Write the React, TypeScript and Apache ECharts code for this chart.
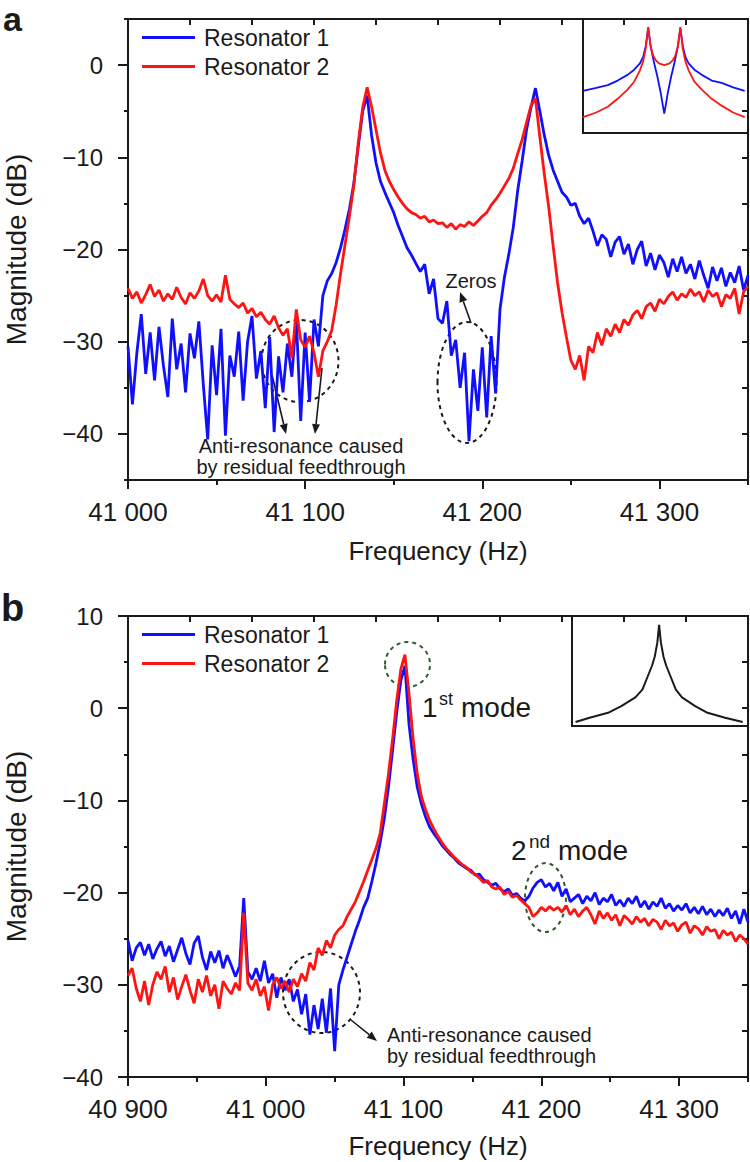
import React, { useEffect, useRef } from 'react';
import * as echarts from 'echarts';

const FONT = '"Liberation Sans", Arial, Helvetica, sans-serif';
const BLUE = '#1010ff';
const RED = '#ff1414';
const INK = '#1a1a1a';
const GREEN = '#2e5a2e';

// ---------- Panel a : frequency grid start / step (Hz) ----------
const A_F0 = 41000;
const A_STEP = 2.5;
// Resonator 1 (blue), panel a
const A_RES1 = [
  -30.5, -36.8, -31.2, -27.0, -33.5, -29.0, -34.2, -28.4, -32.6, -36.0,
  -27.5, -33.0, -30.2, -35.5, -29.1, -31.8, -27.8, -34.6, -40.6, -30.4,
  -35.8, -28.6, -40.2, -31.5, -33.8, -28.9, -36.4, -30.0, -27.2, -34.0,
  -31.0, -37.2, -29.5, -39.8, -31.6, -35.5, -30.2, -33.8, -27.4, -38.6,
  -29.0, -36.5, -27.6, -30.5, -25.0, -23.4, -22.6, -21.4, -19.8, -17.8,
  -15.6, -12.8, -8.8, -5.0, -3.3, -7.6, -10.6, -12.6, -13.8, -14.9,
  -16.0, -17.4, -18.6, -19.8, -20.6, -21.5, -22.4, -21.6, -24.8, -23.2,
  -27.5, -28.0, -25.6, -31.5, -29.8, -35.0, -31.2, -40.8, -33.0, -37.5,
  -30.6, -38.2, -29.4, -35.6, -26.5, -23.0, -20.5, -17.6, -13.6, -10.4,
  -7.0, -4.6, -2.5, -5.0, -7.6, -9.8, -11.4, -12.6, -13.8, -14.3,
  -15.2, -15.0, -16.4, -17.2, -16.6, -18.0, -19.6, -18.4, -18.9, -20.8,
  -19.2, -18.6, -20.5, -19.4, -21.6, -20.0, -19.1, -21.8, -20.4, -22.2,
  -20.6, -21.4, -23.0, -21.0, -22.4, -20.8, -22.6, -21.6, -23.2, -21.2,
  -22.8, -24.2, -21.9, -23.4, -22.0, -24.0, -22.5, -23.6, -21.8, -24.4,
  -22.8,
];
// Resonator 2 (red), panel a
const A_RES2 = [
  -24.2, -25.3, -24.6, -25.8, -24.9, -23.8, -25.1, -24.4, -25.6, -24.8,
  -25.4, -24.1, -25.2, -25.9, -24.7, -25.3, -24.5, -23.2, -25.0, -25.6,
  -24.9, -25.7, -22.8, -25.4, -25.9, -26.3, -25.8, -26.9, -26.4, -27.3,
  -26.8, -27.6, -28.1, -27.2, -28.5, -29.3, -28.6, -31.8, -26.5, -29.8,
  -30.6, -29.4, -31.2, -33.8, -31.0, -30.0, -28.8, -26.0, -22.6, -19.5,
  -16.4, -13.0, -8.4, -4.6, -2.4, -4.5, -7.0, -9.5, -11.4, -12.6,
  -13.5, -14.3, -15.0, -15.6, -16.0, -16.2, -16.6, -16.4, -17.0, -16.8,
  -17.2, -17.1, -17.6, -17.2, -17.8, -17.3, -17.5, -17.0, -17.4, -16.9,
  -16.4, -16.0, -15.2, -14.6, -13.9, -13.1, -12.3, -11.2, -9.6, -8.1,
  -6.2, -4.4, -3.6, -7.8, -11.8, -15.4, -19.6, -23.6, -26.8, -29.5,
  -32.0, -33.0, -31.5, -34.2, -30.5, -31.2, -29.0, -30.4, -28.6, -29.4,
  -28.1, -29.0, -27.6, -28.2, -27.1, -26.6, -27.5, -26.2, -25.8, -26.7,
  -25.4, -25.9, -25.1, -24.6, -25.5, -24.8, -25.2, -24.3, -25.0, -24.6,
  -25.7, -24.4, -25.1, -24.7, -26.2, -24.9, -25.3, -24.2, -27.0, -24.6,
  -24.0,
];

// ---------- Panel b ----------
const B_F0 = 40900;
const B_STEP = 3;
const B_RES1 = [
  -25.2, -27.4, -26.0, -25.4, -26.8, -25.6, -27.2, -26.1, -25.3, -26.9,
  -25.8, -27.5, -26.2, -24.9, -26.6, -27.8, -25.5, -24.7, -27.0, -28.4,
  -26.4, -27.6, -26.3, -28.2, -26.8, -27.9, -29.1, -28.0, -20.6, -28.6,
  -29.4, -28.2, -29.6, -27.4, -29.8, -28.8, -31.4, -29.2, -30.6, -29.4,
  -31.8, -30.5, -33.2, -31.0, -35.4, -32.2, -34.8, -31.5, -35.2, -30.4,
  -37.2, -30.0, -28.4, -27.0, -25.6, -24.2, -23.0, -21.6, -20.6, -18.8,
  -16.8, -14.6, -12.0, -8.6, -4.6, -0.5, 3.0, 4.6, -1.8, -5.6,
  -8.6, -10.4, -11.8, -12.9, -13.6, -14.2, -14.9, -15.4, -15.9, -16.3,
  -16.8, -17.1, -17.4, -17.6, -18.1, -18.0, -18.6, -18.9, -19.2, -19.0,
  -19.6, -19.9, -19.6, -20.3, -20.1, -20.6, -20.9, -20.4, -19.5, -18.9,
  -18.6, -19.4, -19.0, -19.8, -18.9, -20.4, -19.6, -21.0, -20.6, -20.2,
  -21.2, -20.4, -20.9, -20.0, -21.3, -20.6, -21.0, -20.2, -21.4, -20.8,
  -21.5, -20.6, -21.2, -20.4, -21.6, -20.9, -21.8, -21.0, -21.5, -20.6,
  -21.7, -21.2, -22.0, -21.4, -21.9, -21.2, -22.2, -21.6, -22.3, -21.5,
  -22.4, -21.8, -22.6, -21.9, -22.5, -21.7, -22.8, -22.0, -23.4, -21.8,
  -23.2,
];
const B_RES2 = [
  -29.0, -28.2, -30.4, -31.8, -29.6, -32.2, -30.0, -28.6, -29.4, -28.0,
  -30.8, -29.2, -31.6, -30.2, -28.9, -30.6, -32.0, -29.4, -30.8, -29.0,
  -31.2, -30.0, -32.6, -29.6, -30.4, -31.0, -29.8, -30.6, -22.2, -29.8,
  -30.6, -29.4, -31.2, -30.2, -32.8, -30.0, -29.2, -30.4, -29.6, -30.8,
  -29.4, -30.2, -28.8, -29.6, -27.6, -28.4, -26.0, -26.8, -25.2, -26.0,
  -24.6, -24.0, -23.6, -22.6, -21.8, -21.0, -19.9, -18.8, -17.6, -16.4,
  -15.2, -13.6, -10.4, -7.2, -3.4, 0.8, 4.2, 5.8, 1.5, -3.4,
  -7.2, -9.6, -11.0, -12.2, -13.1, -13.9, -14.6, -15.2, -15.7, -16.2,
  -16.6, -17.0, -17.3, -17.8, -18.0, -18.4, -18.9, -18.7, -19.4, -19.6,
  -19.4, -20.2, -19.9, -20.5, -20.3, -20.8, -21.2, -21.6, -22.6, -22.2,
  -21.6, -22.0, -21.5, -21.9, -21.6, -22.1, -21.4, -22.4, -21.8, -22.6,
  -22.0, -21.6, -22.4, -23.4, -22.0, -22.8, -22.2, -23.0, -22.4, -23.6,
  -22.5, -22.9, -23.4, -22.6, -23.2, -22.8, -23.6, -22.9, -23.2, -24.0,
  -23.0, -23.6, -23.3, -24.2, -23.5, -23.2, -24.4, -23.6, -23.9, -24.6,
  -23.7, -24.2, -24.0, -25.0, -24.1, -24.6, -24.3, -25.3, -24.6, -25.0,
  -25.6,
];

// ---------- Insets (arbitrary 0..100 units) ----------
const INSET_A_BLUE_X = [0, 8, 15, 21, 27, 31, 34.5, 36.5, 38, 39.5, 41, 43, 45, 47, 48.4, 49.25, 50.1, 51.5, 53.5, 55.5, 57.5, 59, 60.5, 62, 64, 67.5, 72, 78, 84, 91, 98];
const INSET_A_BLUE_Y = [37, 39.5, 42, 46, 51, 55.5, 61, 67, 76, 92, 76, 62, 50, 36, 24, 17, 24, 36, 50, 62, 76, 92, 76, 67, 61, 55.5, 51, 46, 44, 40, 37];
const INSET_A_RED_X = [0, 8, 15, 21, 27, 31, 34.5, 36.5, 38, 39.5, 41, 42.5, 44, 46, 49.25, 52.5, 54.5, 56, 57.5, 59, 60.5, 62, 64, 67.5, 72, 78, 84, 91, 98];
const INSET_A_RED_Y = [14, 18, 23, 30, 38, 45, 55, 63, 74, 93, 76, 68, 64, 61, 59.5, 61, 64, 68, 76, 93, 74, 63, 55, 45, 38, 30, 24, 18, 14];
const INSET_B_X = [2, 10, 20.5, 28, 36, 40, 43, 45.5, 47, 48.5, 49.5, 50.5, 52, 53.5, 56, 59, 62.5, 70, 77, 87, 97];
const INSET_B_Y = [3.6, 7.5, 12, 18, 26, 33, 45, 55, 63, 76, 92, 76, 63, 55, 45, 33, 26, 18, 12, 7.5, 3.6];

// ---------- Tick values ----------
const A_X_TICKS = [41000, 41100, 41200, 41300];
const A_Y_TICKS = [-40, -30, -20, -10, 0];
const B_X_TICKS = [40900, 41000, 41100, 41200, 41300];
const B_Y_TICKS = [-40, -30, -20, -10, 0, 10];
const LEGEND_NAMES = ['Resonator 1', 'Resonator 2'];

const toPairs = (f0: number, step: number, vals: number[]) => vals.map((v, i) => [f0 + i * step, v]);
const zip = (xs: number[], ys: number[]) => xs.map((x, i) => [x, ys[i]]);

const fmtHz = (v: number) => {
  const k = Math.floor(v / 1000);
  const r = Math.round(v - k * 1000);
  return `${k} ${String(r).padStart(3, '0')}`;
};
const fmtDb = (v: number) => (v < 0 ? `\u2212${-v}` : `${v}`);

const lineW = (w: number) => ({ color: INK, width: w });

function xAxesFor(grid: number, min: number, max: number, ticks: number[], nameGap: number) {
  return [
    {
      type: 'value', gridIndex: grid, position: 'bottom', min, max, interval: 100,
      axisLine: { show: true, onZero: false, lineStyle: lineW(2) },
      axisTick: { show: true, inside: false, length: 9, lineStyle: lineW(2), customValues: ticks },
      axisLabel: { show: true, margin: 19, fontSize: 26, color: INK, fontFamily: FONT, customValues: ticks, formatter: fmtHz },
      splitLine: { show: false },
      name: 'Frequency (Hz)', nameLocation: 'middle', nameGap,
      nameTextStyle: { fontSize: 26, color: INK, fontFamily: FONT },
    },
    {
      type: 'value', gridIndex: grid, position: 'bottom', min, max, interval: 50,
      axisLine: { show: false, onZero: false },
      axisTick: { show: true, inside: false, length: 5, lineStyle: lineW(2) },
      axisLabel: { show: false }, splitLine: { show: false },
    },
    {
      type: 'value', gridIndex: grid, position: 'top', min: 0, max: 10, interval: 1,
      axisLine: { show: true, onZero: false, lineStyle: lineW(2) },
      axisTick: { show: true, inside: true, length: 6, lineStyle: lineW(2) },
      axisLabel: { show: false }, splitLine: { show: false },
    },
  ];
}

function yAxesFor(grid: number, min: number, max: number, ticks: number[]) {
  return [
    {
      type: 'value', gridIndex: grid, position: 'left', min, max, interval: 5,
      axisLine: { show: true, onZero: false, lineStyle: lineW(2) },
      axisTick: { show: true, inside: false, length: 10, lineStyle: lineW(2), customValues: ticks },
      axisLabel: { show: true, margin: 25, fontSize: 24, color: INK, fontFamily: FONT, customValues: ticks, formatter: fmtDb },
      splitLine: { show: false },
      name: 'Magnitude (dB)', nameLocation: 'middle', nameGap: 98, nameRotate: 90,
      nameTextStyle: { fontSize: 28, color: INK, fontFamily: FONT },
    },
    {
      type: 'value', gridIndex: grid, position: 'left', min, max, interval: 5,
      axisLine: { show: false, onZero: false },
      axisTick: { show: true, inside: false, length: 4, lineStyle: lineW(2) },
      axisLabel: { show: false }, splitLine: { show: false },
    },
    {
      type: 'value', gridIndex: grid, position: 'right', min, max, interval: 5,
      axisLine: { show: true, onZero: false, lineStyle: lineW(2) },
      axisTick: { show: true, inside: true, length: 6, lineStyle: lineW(2) },
      axisLabel: { show: false }, splitLine: { show: false },
    },
  ];
}

const insetX = (grid: number) => ({ type: 'value', gridIndex: grid, min: 0, max: 100, show: false });
const insetY = (grid: number) => ({ type: 'value', gridIndex: grid, min: 0, max: 100, show: false });

function arrowEls(x1: number, y1: number, x2: number, y2: number, color: string) {
  const dx = x2 - x1, dy = y2 - y1;
  const len = Math.hypot(dx, dy);
  const ux = dx / len, uy = dy / len;
  const head = 10, hw = 4;
  const bx = x2 - ux * head, by = y2 - uy * head;
  return [
    { type: 'line', silent: true, shape: { x1, y1, x2: bx, y2: by }, style: { stroke: color, lineWidth: 1.6 } },
    {
      type: 'polygon', silent: true,
      shape: { points: [[x2, y2], [bx - uy * hw, by + ux * hw], [bx + uy * hw, by - ux * hw]] },
      style: { fill: color },
    },
  ];
}

function txt(text: string, x: number, y: number, size: number, align: string, extra: any = {}) {
  return {
    type: 'text', silent: true, x, y,
    style: {
      text, fontSize: size, fontFamily: FONT, fill: INK,
      align, textAlign: align, verticalAlign: 'middle', textVerticalAlign: 'middle',
      ...extra,
    },
  };
}

function ellipse(cx: number, cy: number, rx: number, ry: number, color: string) {
  return {
    type: 'ellipse', silent: true, shape: { cx, cy, rx, ry },
    style: { fill: 'none', stroke: color, lineWidth: 2, lineDash: [4, 4] },
  };
}

const lineSeries = (name: string, color: string, width: number, xi: number, yi: number, data: number[][], z = 2) => ({
  type: 'line', name, xAxisIndex: xi, yAxisIndex: yi, data,
  symbol: 'none', showSymbol: false, z,
  lineStyle: { color, width }, itemStyle: { color },
  emphasis: { disabled: true },
});

const gridBox = (left: number, top: number, width: number, height: number, border: boolean) => ({
  left, top, width, height, containLabel: false, outerBoundsMode: 'none',
  show: border, borderColor: INK, borderWidth: 2, backgroundColor: 'transparent',
});

export default function App() {
  const ref = useRef<HTMLDivElement>(null);

  useEffect(() => {
    document.body.style.margin = '0';
    if (!ref.current) return;
    const chart = echarts.init(ref.current, undefined, { renderer: 'svg' });

    const legendBase = {
      data: LEGEND_NAMES, orient: 'vertical', left: 142, icon: 'rect', itemWidth: 53, itemHeight: 3, itemGap: 6,
      padding: 0, selectedMode: false,
      textStyle: { fontSize: 23, color: INK, fontFamily: FONT, padding: [0, 0, 0, 4] },
    };

    const option: any = {
      animation: false,
      backgroundColor: '#ffffff',
      legend: [
        { ...legendBase, top: 26 },
        { ...legendBase, top: 623 },
      ],
      grid: [
        gridBox(128, 19, 620, 461, false),
        gridBox(583, 19, 165, 114, true),
        gridBox(128, 616, 620, 461, false),
        gridBox(572, 616, 176, 110, true),
      ],
      xAxis: [
        ...xAxesFor(0, 41000, 41350, A_X_TICKS, 58),
        insetX(1),
        ...xAxesFor(2, 40900, 41350, B_X_TICKS, 56),
        insetX(3),
      ],
      yAxis: [
        ...yAxesFor(0, -45, 5, A_Y_TICKS),
        insetY(1),
        ...yAxesFor(2, -40, 10, B_Y_TICKS),
        insetY(3),
      ],
      series: [
        lineSeries('Resonator 1', BLUE, 2.8, 0, 0, toPairs(A_F0, A_STEP, A_RES1)),
        lineSeries('Resonator 2', RED, 2.8, 0, 0, toPairs(A_F0, A_STEP, A_RES2), 3),
        lineSeries('inset a 1', BLUE, 1.8, 3, 3, zip(INSET_A_BLUE_X, INSET_A_BLUE_Y)),
        lineSeries('inset a 2', RED, 1.8, 3, 3, zip(INSET_A_RED_X, INSET_A_RED_Y)),
        lineSeries('Resonator 1', BLUE, 2.8, 4, 4, toPairs(B_F0, B_STEP, B_RES1)),
        lineSeries('Resonator 2', RED, 2.8, 4, 4, toPairs(B_F0, B_STEP, B_RES2), 3),
        lineSeries('inset b', INK, 2, 7, 7, zip(INSET_B_X, INSET_B_Y)),
      ],
      graphic: {
        elements: [
          // panel labels
          txt('a', 3, 19, 34, 'left', { fontWeight: 'bold' }),
          txt('b', 1, 608, 38, 'left', { fontWeight: 'bold' }),
          // panel a annotations
          ellipse(300, 361, 38.5, 41, INK),
          ...arrowEls(272, 375, 286, 434, INK),
          ...arrowEls(322, 368, 315, 434, INK),
          txt('Anti-resonance caused\nby residual feedthrough', 301, 456, 20, 'center', { lineHeight: 21 }),
          ellipse(467, 382.5, 29.5, 60.5, INK),
          ...arrowEls(471, 323, 460, 292, INK),
          txt('Zeros', 471, 281, 20, 'center'),
          // panel b annotations
          ellipse(407.5, 664.5, 22.5, 22.5, GREEN),
          txt('1', 422, 707, 28, 'left'),
          txt('st', 439, 699, 18, 'left'),
          txt('mode', 461, 707, 28, 'left'),
          ellipse(545.5, 897.5, 20.5, 34.5, GREEN),
          txt('2', 511, 850, 28, 'left'),
          txt('nd', 529, 841, 19, 'left'),
          txt('mode', 558, 850, 28, 'left'),
          ellipse(321.5, 992.5, 38.5, 40.5, INK),
          ...arrowEls(351, 1020, 377, 1041, INK),
          txt('Anti-resonance caused\nby residual feedthrough', 387, 1045.5, 20, 'left', { lineHeight: 21 }),
        ],
      },
    };

    chart.setOption(option);
    return () => chart.dispose();
  }, []);

  return (
    <div style={{ position: 'absolute', left: 0, top: 0, width: 750, height: 1162, background: '#fff' }}>
      <div ref={ref} style={{ width: 750, height: 1162 }} />
    </div>
  );
}
